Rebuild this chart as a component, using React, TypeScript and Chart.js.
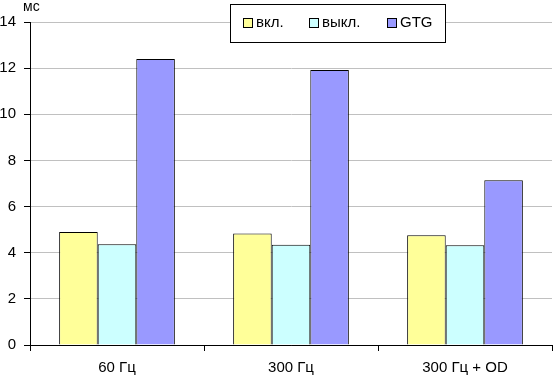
import React, { useEffect, useRef } from "react";
import { Chart, registerables } from "chart.js";

Chart.register(...registerables);

const categories = ["60 Гц", "300 Гц", "300 Гц + OD"];
const seriesNames = ["вкл.", "выкл.", "GTG"];
const vkl = [4.9, 4.83, 4.76];
const vykl = [4.37, 4.34, 4.32];
const gtg = [12.4, 11.92, 7.14];
const colors = ["#FFFF99", "#CCFFFF", "#9999FF"];
const unitLabel = "мс";

const FONT = "'Liberation Sans', Arial, sans-serif";

export default function App() {
  const ref = useRef<HTMLCanvasElement | null>(null);
  useEffect(() => {
    if (!ref.current) return;
    const overlay = {
      id: "overlay",
      afterDraw(chart: any) {
        const ctx = chart.ctx;
        ctx.save();
        ctx.fillStyle = "#000";
        ctx.font = `14px ${FONT}`;
        ctx.textBaseline = "alphabetic";
        ctx.textAlign = "left";
        ctx.fillText(unitLabel, 23, 11);
        // legend
        const bx = 230.5, by = 4.5, bw = 215, bh = 38;
        ctx.fillStyle = "#fff";
        ctx.fillRect(bx, by, bw, bh);
        ctx.strokeStyle = "#000";
        ctx.lineWidth = 1;
        ctx.strokeRect(bx, by, bw, bh);
        const sx = [243, 309, 387];
        ctx.font = `15px ${FONT}`;
        ctx.textBaseline = "middle";
        chart.data.datasets.forEach((ds: any, i: number) => {
          ctx.fillStyle = ds.backgroundColor;
          ctx.fillRect(sx[i] + 0.5, 18.5, 9, 9);
          ctx.strokeStyle = "#000";
          ctx.strokeRect(sx[i] + 0.5, 18.5, 9, 9);
          ctx.fillStyle = "#000";
          ctx.fillText(ds.label, sx[i] + 13, 23);
        });
        ctx.restore();
      },
    };
    const chart = new Chart(ref.current, {
      type: "bar",
      data: {
        labels: categories,
        datasets: [vkl, vykl, gtg].map((d, i) => ({
          label: seriesNames[i],
          data: d,
          backgroundColor: colors[i],
          borderColor: "#000",
          borderWidth: 1,
          categoryPercentage: 0.665,
          barPercentage: 1.0,
        })),
      },
      options: {
        animation: false,
        responsive: false,
        devicePixelRatio: 1,
        layout: { padding: { top: 22, right: 1, left: 0, bottom: 0 } },
        plugins: { legend: { display: false }, tooltip: { enabled: false } },
        scales: {
          x: {
            afterFit: (s: any) => { s.height = 32; },
            grid: { drawOnChartArea: false, drawTicks: true, tickLength: 6, color: "#000", offset: true },
            border: { color: "#000", width: 1 },
            ticks: { color: "#000", font: { family: FONT, size: 15, weight: "normal" }, padding: 8, maxRotation: 0 },
          },
          y: {
            min: 0,
            max: 14,
            afterFit: (s: any) => { s.width = 30; },
            grid: {
              color: (c: any) => (c.tick && c.tick.value === 0 ? "#000" : "#c0c0c0"),
              tickColor: "#000",
              tickLength: 6,
            },
            border: { color: "#000", width: 1 },
            ticks: { stepSize: 2, color: "#000", font: { family: FONT, size: 15, weight: "normal" }, padding: 8 },
          },
        },
      },
      plugins: [overlay],
    } as any);
    return () => chart.destroy();
  }, []);
  return (
    <div style={{ position: "absolute", left: 0, top: 0, width: 553, height: 377, background: "#fff" }}>
      <canvas ref={ref} width={553} height={377} />
    </div>
  );
}
